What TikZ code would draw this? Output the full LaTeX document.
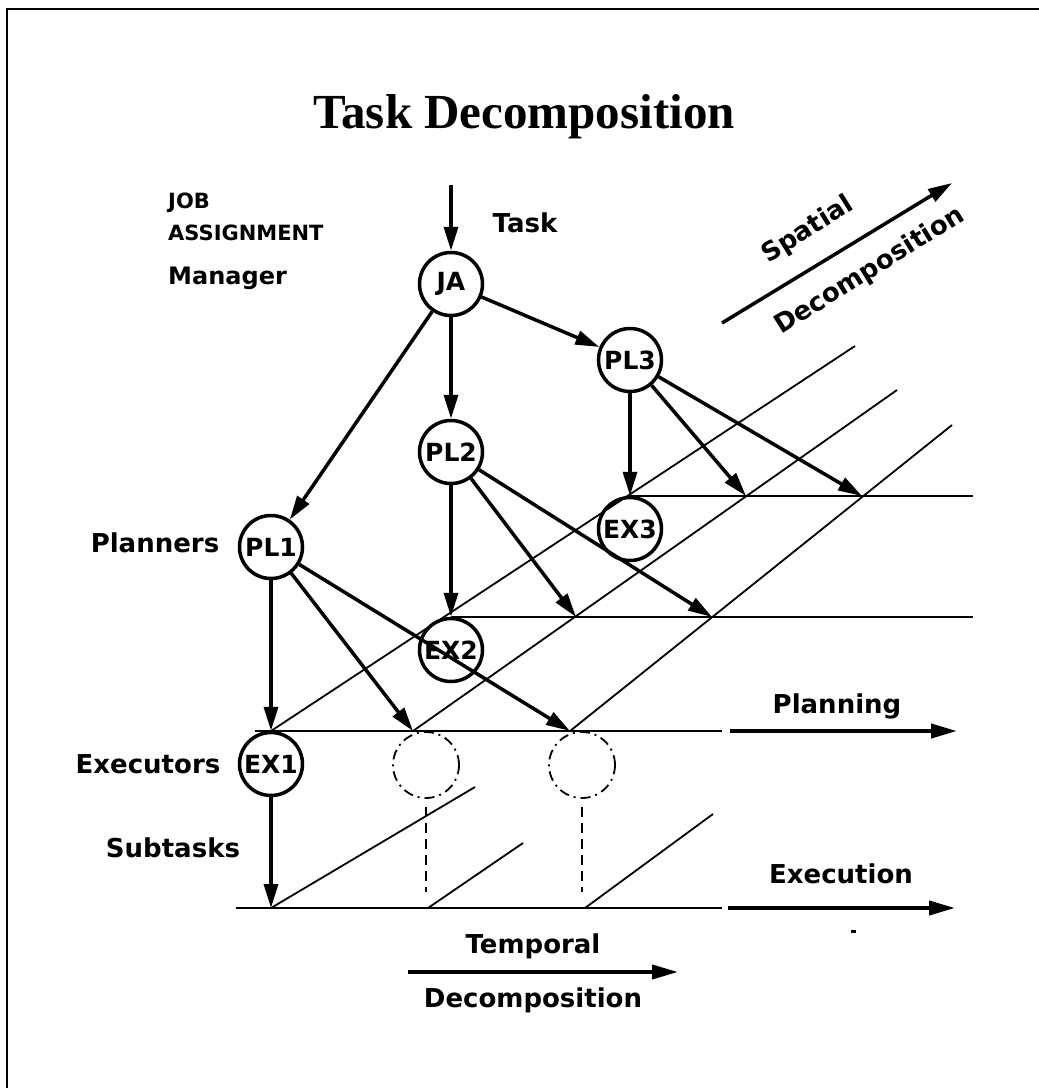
\documentclass[tikz,border=0pt]{standalone}
\usepackage{fontspec}
\setmainfont{DejaVu Sans}
\newfontfamily\titlefont{Liberation Serif}
\usetikzlibrary{arrows.meta}
\begin{document}
\begin{tikzpicture}[x=1pt,y=-1pt,
  circ/.style={circle,draw,line width=3.5pt,minimum size=63pt,inner sep=0pt,
    font=\fontsize{25}{25}\selectfont\bfseries},
  dcirc/.style={circle,draw,line width=1.8pt,minimum size=66pt,inner sep=0pt,
    dash pattern=on 10pt off 5pt on 2pt off 5pt},
  conn/.style={line width=3.5pt,-{Triangle[length=24pt,width=14pt]}},
  bigarrow/.style={line width=4pt,-{Triangle[length=26pt,width=14pt]}},
  fine/.style={line width=1.8pt},
  dline/.style={line width=1.8pt,dash pattern=on 10pt off 6pt},
  lbl/.style={inner sep=0pt,anchor=base,font=\fontsize{26}{26}\selectfont\bfseries},
]
\useasboundingbox (0,0) rectangle (1039,1088);
\draw[line width=2pt] (7,1088) -- (7,9) -- (1039,9);

% title
\node[anchor=base,inner sep=0pt,font=\fontsize{49}{49}\selectfont\titlefont\bfseries] (title) at (524,128) {Task Decomposition};

% left labels
\node[lbl,anchor=base west,font=\fontsize{21}{21}\selectfont\bfseries] (job) at (168,208) {JOB};
\node[lbl,anchor=base west,font=\fontsize{21}{21}\selectfont\bfseries] (assign) at (168,240) {ASSIGNMENT};
\node[lbl,anchor=base west,font=\fontsize{24}{24}\selectfont\bfseries] (manager) at (168,284) {Manager};
\node[lbl] (task) at (525,232) {Task};
\node[lbl] (planners) at (155,552) {Planners};
\node[lbl] (executors) at (148,773) {Executors};
\node[lbl] (subtasks) at (173,857) {Subtasks};
\node[lbl] (planning) at (837,713) {Planning};
\node[lbl] (execution) at (841,883) {Execution};
\node[lbl] (temporal) at (533,953) {Temporal};
\node[lbl] (tdecomp) at (533,1007) {Decomposition};
\node[lbl,anchor=center,rotate=32] (spatial) at (808,230) {Spatial};
\node[lbl,anchor=center,rotate=32] (sdecomp) at (870,271) {Decomposition};

% agents
\node[circ] (JA) at (451,284) {JA};
\node[circ] (PL1) at (271,547) {PL1};
\node[circ] (PL2) at (451,452) {PL2};
\node[circ] (PL3) at (630,360) {PL3};
\node[circ] (EX1) at (271,764) {EX1};
\node[circ] (EX2) at (451,650) {EX2};
\node[circ] (EX3) at (630,529) {EX3};
\node[dcirc] (D1) at (426,765) {};
\node[dcirc] (D2) at (582,765) {};

% coordinates
\coordinate (taskin) at (451,185);
\coordinate (L1a) at (255,731); \coordinate (L1b) at (722,731);
\coordinate (L2a) at (451,617); \coordinate (L2b) at (973,617);
\coordinate (L3a) at (630,496); \coordinate (L3b) at (973,496);
\coordinate (P1a) at (271,731);
\coordinate (P1b) at (413,731); \coordinate (P1c) at (570,731);
\coordinate (P2b) at (576,617); \coordinate (P2c) at (712,617);
\coordinate (P3b) at (746,496); \coordinate (P3c) at (862,496);
\coordinate (U1) at (855,346); \coordinate (U2) at (897,390); \coordinate (U3) at (952,425);
\coordinate (Ea) at (236,908); \coordinate (Eb) at (722,908);
\coordinate (E1) at (271,908); \coordinate (E2) at (428,908); \coordinate (E3) at (585,908);
\coordinate (T1) at (475,787); \coordinate (T2) at (523,843); \coordinate (T3) at (713,814);
\coordinate (D1s) at (426,807); \coordinate (D1e) at (426,892);
\coordinate (D2s) at (582,807); \coordinate (D2e) at (582,892);
\coordinate (PLa) at (730,731); \coordinate (PLb) at (957,731);
\coordinate (EXa) at (728,908); \coordinate (EXb) at (955,908);
\coordinate (TMa) at (408,972); \coordinate (TMb) at (678,972);
\coordinate (SPa) at (722,323); \coordinate (SPb) at (952,183);

% planning levels
\draw[fine] (L1a) -- (L1b);
\draw[fine] (L2a) -- (L2b);
\draw[fine] (L3a) -- (L3b);
\draw[fine] (P1a) -- (U1);
\draw[fine] (P1b) -- (U2);
\draw[fine] (P1c) -- (U3);

% execution level
\draw[fine] (Ea) -- (Eb);
\draw[fine] (E1) -- (T1);
\draw[fine] (E2) -- (T2);
\draw[fine] (E3) -- (T3);
\draw[dline] (D1s) -- (D1e);
\draw[dline] (D2s) -- (D2e);

% connectors
\draw[conn] (taskin) -- (JA);
\draw[conn] (JA) -- (PL1);
\draw[conn] (JA) -- (PL2);
\draw[conn] (JA) -- (PL3);
\draw[conn] (PL3) -- (EX3);
\draw[conn] (PL3) -- (P3b);
\draw[conn] (PL3) -- (P3c);
\draw[conn] (PL2) -- (EX2);
\draw[conn] (PL2) -- (P2b);
\draw[conn] (PL2) -- (P2c);
\draw[conn] (PL1) -- (EX1);
\draw[conn] (PL1) -- (P1b);
\draw[conn] (PL1) -- (P1c);
\draw[conn] (EX1) -- (E1);

% axis arrows
\draw[bigarrow] (PLa) -- (PLb);
\draw[bigarrow] (EXa) -- (EXb);
\draw[bigarrow] (TMa) -- (TMb);
\draw[conn] (SPa) -- (SPb);

\fill (851,930) rectangle (856,933);
\end{tikzpicture}
\end{document}
